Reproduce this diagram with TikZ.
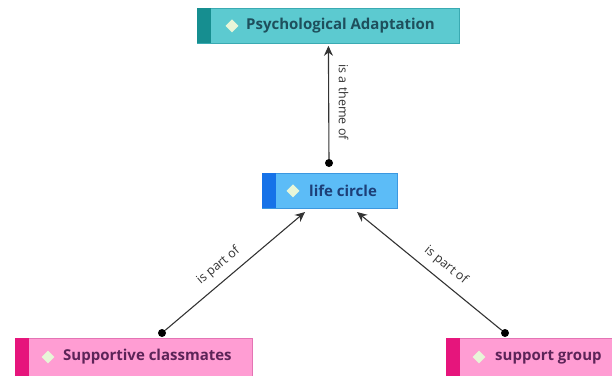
\documentclass[tikz,border=0pt]{standalone}
\usepackage{fontspec}
\setmainfont{Open Sans}
\usetikzlibrary{arrows.meta,shapes.geometric,calc}
\definecolor{tealfill}{HTML}{5CCAD0}
\definecolor{tealband}{HTML}{168E90}
\definecolor{tealline}{HTML}{3AAAB2}
\definecolor{tealtext}{HTML}{1E4F5C}
\definecolor{bluefill}{HTML}{5CBCF7}
\definecolor{blueband}{HTML}{1672E8}
\definecolor{blueline}{HTML}{3C98E0}
\definecolor{bluetext}{HTML}{1D3F78}
\definecolor{pinkfill}{HTML}{FF9DD3}
\definecolor{pinkband}{HTML}{E6157C}
\definecolor{pinkline}{HTML}{E474B4}
\definecolor{pinktext}{HTML}{5C2458}
\definecolor{iconfill}{HTML}{E8F6D8}
\definecolor{linkgray}{HTML}{333333}
\tikzset{
  conceptbox/.style={rectangle, anchor=north west, minimum height=35pt, inner sep=0pt, line width=0.8pt},
  bandbox/.style={rectangle, anchor=north west, minimum width=14pt, minimum height=35pt, inner sep=0pt},
  iconmark/.style={diamond, fill=iconfill, minimum size=13pt, inner sep=0pt},
  ctext/.style={anchor=west, font=\bfseries\fontsize{15}{17}\selectfont, inner sep=0pt},
  link/.style={draw=linkgray, line width=1.1pt, -{Stealth[length=10pt,width=9pt]}},
  linklabel/.style={font=\fontsize{12.5}{14}\selectfont, text=linkgray, inner sep=1pt},
  dot/.style={circle, fill=black, minimum size=8pt, inner sep=0pt}
}
\begin{document}
\begin{tikzpicture}[x=1pt,y=1pt]
\useasboundingbox (0,0) rectangle (612,-375);
% top concept
\node[conceptbox, minimum width=262pt, fill=tealfill, draw=tealline] (top) at (197,-8) {};
\node[bandbox, fill=tealband] (topb) at (197,-8) {};
\node[iconmark] (topi) at ([xshift=35pt]top.west) {};
\node[ctext, text=tealtext] (topt) at ([xshift=49pt]top.west) {Psychological Adaptation};
% life circle
\node[conceptbox, minimum width=135pt, fill=bluefill, draw=blueline] (life) at (262,-173) {};
\node[bandbox, fill=blueband] (lifeb) at (262,-173) {};
\node[iconmark] (lifei) at ([xshift=31pt]life.west) {};
\node[ctext, text=bluetext] (lifet) at ([xshift=47pt]life.west) {life circle};
% supportive classmates
\node[conceptbox, minimum width=237pt, minimum height=40pt, fill=pinkfill, draw=pinkline] (sc) at (15,-338) {};
\node[bandbox, minimum height=40pt, fill=pinkband] (scb) at (15,-338) {};
\node[iconmark] (sci) at (48,-357) {};
\node[ctext, text=pinktext] (sct) at (63,-357) {Supportive classmates};
% support group
\node[conceptbox, minimum width=180pt, minimum height=40pt, fill=pinkfill, draw=pinkline] (sg) at (446,-338) {};
\node[bandbox, minimum height=40pt, fill=pinkband] (sgb) at (446,-338) {};
\node[iconmark] (sgi) at (479,-357) {};
\node[ctext, text=pinktext] (sgt) at (495,-357) {support group};
% link endpoints
\node[dot] (d1) at (329,-163) {};
\node[dot] (d2) at (162,-333) {};
\node[dot] (d3) at (505,-333) {};
\coordinate (e2) at (305,-212);
\coordinate (e3) at (357,-212);
% connectors
\draw[link] (d1) -- ([yshift=-2pt]top.south) node[linklabel, midway, xshift=15pt, rotate=-90] {is a theme of};
\draw[link] (d2) -- (e2) node[linklabel, pos=0.45, sloped, above=7pt] {is part of};
\draw[link] (d3) -- (e3) node[linklabel, pos=0.45, sloped, above=7pt] {is part of};
\end{tikzpicture}
\end{document}
